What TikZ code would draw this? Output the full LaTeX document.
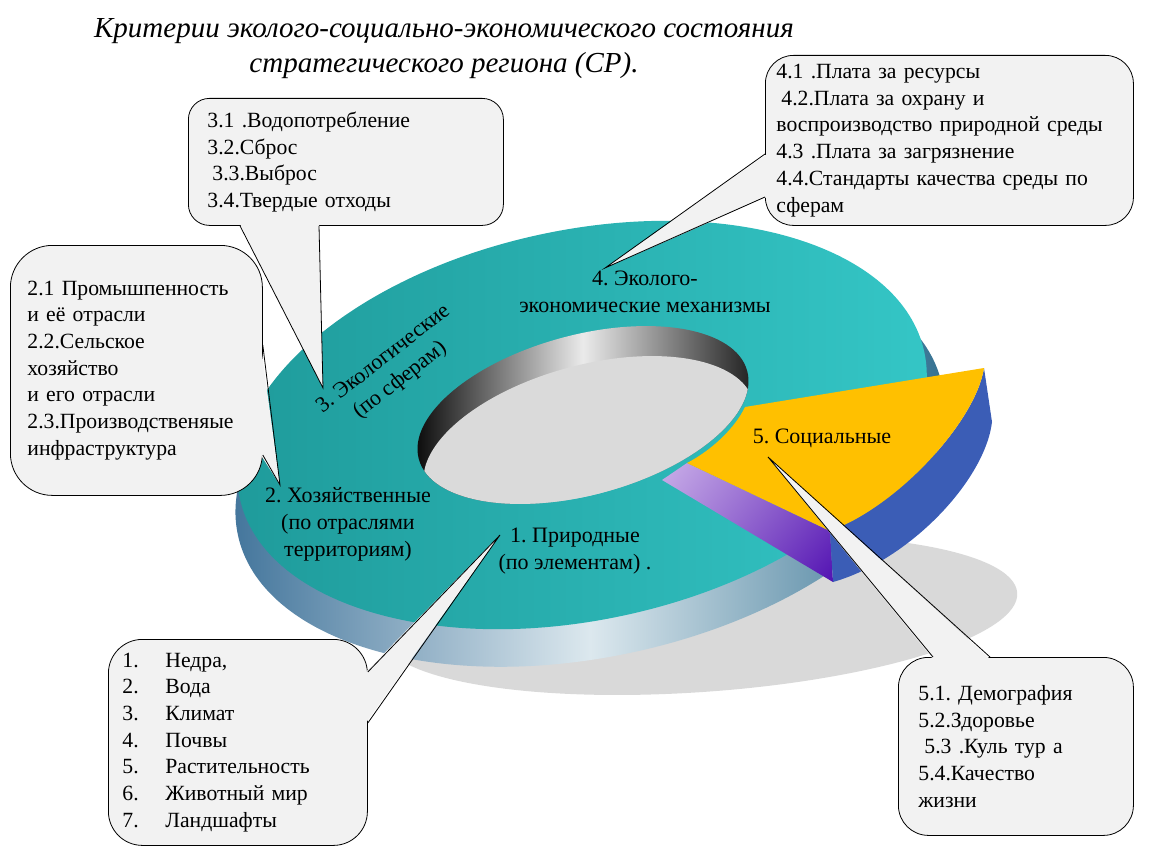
\documentclass[tikz,border=0pt]{standalone}
\usepackage{fontspec}
\setmainfont{Liberation Serif}
\usetikzlibrary{calc,shadings}
\definecolor{boxfill}{HTML}{F2F2F2}
\definecolor{tealL}{HTML}{1E9A9A}
\definecolor{tealR}{HTML}{35C7C7}
\definecolor{rimL}{HTML}{3C7098}
\definecolor{rimM}{HTML}{DCE8EE}
\definecolor{rimR}{HTML}{2A6A8C}
\definecolor{shadowgrey}{HTML}{D9D9D9}
\definecolor{floorgrey}{HTML}{DADADA}
\definecolor{sliceyellow}{HTML}{FFC000}
\definecolor{sliceblue}{HTML}{3B5DB6}
\definecolor{purpleL}{HTML}{C9AEE8}
\definecolor{purpleD}{HTML}{5212B2}
\tikzset{
  callout/.style={draw=black, line width=0.8pt, fill=boxfill, align=left,
    font=\fontsize{21.7}{26.7}\selectfont\frenchspacing, anchor=north west, inner ysep=0pt},
  lbl/.style={align=center, font=\fontsize{22}{27}\selectfont\frenchspacing, inner sep=0pt, text=black},
  ptr/.style={draw=black, line width=0.8pt, line join=miter},
  ttl/.style={align=center, font=\fontsize{29}{35}\selectfont\itshape\frenchspacing, inner sep=0pt},
}
\begin{document}
\begin{tikzpicture}[x=1pt,y=-1pt]
\useasboundingbox (0,0) rectangle (1150,864);
% shadow under the disk
\fill[shadowgrey, rotate around={4:(700,615)}] (700,615) ellipse [x radius=318pt, y radius=77pt];
% rim of the disk
\shade[left color=rimL, right color=rimR, middle color=rimM, rotate around={12:(590,460)}]
  (590,460) ellipse [x radius=360pt, y radius=197pt];
% top surface
\shade[left color=tealL, right color=tealR, rotate around={12:(582,425)}]
  (582,425) ellipse [x radius=350pt, y radius=195pt];
% hole wall
\shade[left color=black, right color=black!90, middle color=white!92!black, rotate around={15:(583,415)}]
  (583,415) ellipse [x radius=170pt, y radius=80pt];
% hole floor
\begin{scope}
  \clip[rotate around={15:(583,415)}] (583,415) ellipse [x radius=170pt, y radius=80pt];
  \fill[floorgrey, rotate around={15:(589,445)}] (589,445) ellipse [x radius=170pt, y radius=80pt];
\end{scope}
% exploded slice
\shade[upper left=purpleL, lower left=purpleL!70!purpleD, upper right=purpleL!40!purpleD, lower right=purpleD]
  (687,463) -- (830,531) -- (833,582) -- (662,480) -- cycle;
\fill[sliceblue] (830,531) .. controls (900,505) and (976,420) .. (984,368)
  -- (992,422) .. controls (985,480) and (910,560) .. (833,582) -- cycle;
\fill[sliceyellow] (687,463) .. controls (712,450) and (735,428) .. (745,407)
  -- (984,368) .. controls (976,420) and (900,505) .. (830,531) -- cycle;
% labels on the disk
\node[lbl] (l4) at (645,292) {4. Эколого-\\экономические механизмы};
\node[lbl, rotate=38] (l3) at (392,370) {3. Экологические\\(по сферам)};
\node[lbl] (l2) at (348,524) {2. Хозяйственные\\(по отраслями\\территориям)};
\node[lbl] (l1) at (575,551) {1. Природные\\(по элементам) .};
\node[lbl] (l5) at (822,438) {5. Социальные};
% tips of the callouts
\coordinate (t3) at (323,388);
\coordinate (t4) at (605,268);
\coordinate (t2) at (280,485);
\coordinate (t1) at (500,535);
\coordinate (t5) at (768,457);
% callout 3
\node[callout, text width=277pt, inner xsep=19pt, minimum height=127pt, rounded corners=21pt] (b3) at (188,98)
  {\mbox{3.1 .Водопотребление}\\\mbox{3.2.Сброс}\\\mbox{\hspace{5pt}3.3.Выброс}\\\mbox{3.4.Твердые отходы}};
\coordinate (a3) at ($(b3.south west)+(52,0)$);
\coordinate (c3) at ($(b3.south west)+(131,0)$);
\fill[boxfill] ($(a3)+(0,-2)$) -- (t3) -- ($(c3)+(0,-2)$) -- cycle;
\draw[ptr] (a3) -- (t3) -- (c3);
% callout 4
\node[callout, text width=346pt, inner xsep=11pt, minimum height=170pt, rounded corners=28pt] (b4) at (765,55)
  {\mbox{4.1 .Плата за ресурсы}\\\mbox{\hspace{5pt}4.2.Плата за охрану и}\\\mbox{воспроизводство природной среды}\\\mbox{4.3 .Плата за загрязнение}\\\mbox{4.4.Стандарты качества среды по}\\\mbox{сферам}};
\coordinate (a4) at ($(b4.north west)+(0,99)$);
\coordinate (c4) at ($(b4.north west)+(0,142)$);
\fill[boxfill] ($(a4)+(2,0)$) -- (t4) -- ($(c4)+(2,0)$) -- cycle;
\draw[ptr] (a4) -- (t4) -- (c4);
% callout 2
\node[callout, text width=218pt, inner xsep=17pt, minimum height=250pt, rounded corners=42pt] (b2) at (10,245)
  {\mbox{2.1 Промышпенность}\\\mbox{и её отрасли}\\\mbox{2.2.Сельское}\\\mbox{хозяйство}\\\mbox{и его отрасли}\\\mbox{2.3.Производственяые}\\\mbox{инфраструктура}};
\coordinate (a2) at ($(b2.north east)+(0,100)$);
\coordinate (c2) at ($(b2.north east)+(0,210)$);
\fill[boxfill] ($(a2)+(-2,0)$) -- (t2) -- ($(c2)+(-2,0)$) -- cycle;
\draw[ptr] (a2) -- (t2) -- (c2);
% callout 1
\node[callout, text width=231pt, inner xsep=14pt, minimum height=206pt, rounded corners=34pt] (b1) at (108,639)
  {\makebox[43pt][l]{1.}Недра,\\\makebox[43pt][l]{2.}Вода\\\makebox[43pt][l]{3.}Климат\\\makebox[43pt][l]{4.}Почвы\\\makebox[43pt][l]{5.}Растительность\\\makebox[43pt][l]{6.}\mbox{Животный мир}\\\makebox[43pt][l]{7.}Ландшафты};
\coordinate (a1) at ($(b1.north east)+(0,33)$);
\coordinate (c1) at ($(b1.north east)+(0,84)$);
\fill[boxfill] ($(a1)+(-2,0)$) -- (t1) -- ($(c1)+(-2,0)$) -- cycle;
\draw[ptr] (a1) -- (t1) -- (c1);
% callout 5
\node[callout, text width=195pt, inner xsep=20pt, minimum height=178pt, rounded corners=30pt] (b5) at (898,657)
  {\mbox{5.1. Демография}\\\mbox{5.2.Здоровье}\\\mbox{\hspace{6pt}5.3 .Куль тур а}\\\mbox{5.4.Качество}\\\mbox{жизни}};
\coordinate (a5) at ($(b5.north west)+(35,0)$);
\coordinate (c5) at ($(b5.north west)+(92,0)$);
\fill[boxfill] ($(a5)+(0,2)$) -- (t5) -- ($(c5)+(0,2)$) -- cycle;
\draw[ptr] (a5) -- (t5) -- (c5);
% title
\node[ttl] (title) at (444,49) {Критерии эколого-социально-экономического состояния\\стратегического региона (СР).};
\end{tikzpicture}
\end{document}
